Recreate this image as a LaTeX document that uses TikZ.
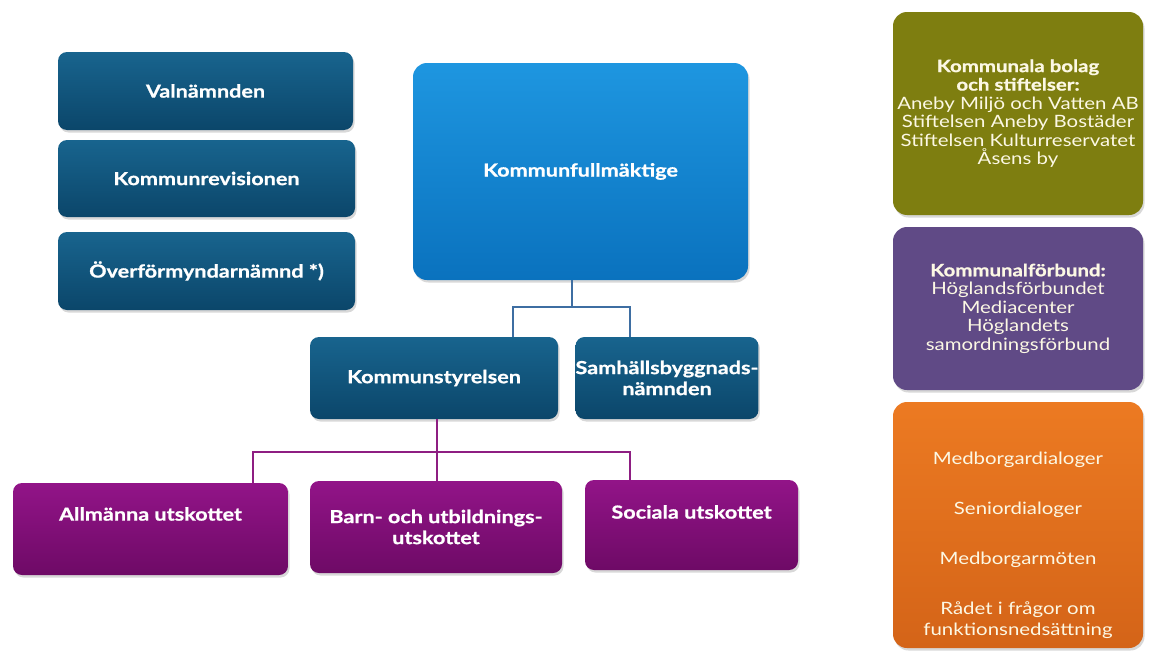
\documentclass[tikz,border=0pt]{standalone}
\usepackage{fontspec}
\setmainfont{Lato}[FakeStretch=1.2, BoldFeatures={FakeBold=0.8}]
\usetikzlibrary{shadows}

\definecolor{navytop}{RGB}{24,100,142}
\definecolor{navybot}{RGB}{11,70,106}
\definecolor{kftop}{RGB}{30,150,224}
\definecolor{kfbot}{RGB}{10,114,190}
\definecolor{plumtop}{RGB}{146,20,136}
\definecolor{plumbot}{RGB}{110,10,102}
\definecolor{bolaggreen}{RGB}{126,126,16}
\definecolor{forbundlila}{RGB}{96,74,134}
\definecolor{dialogtop}{RGB}{236,122,34}
\definecolor{dialogbot}{RGB}{212,100,24}
\definecolor{bluelink}{RGB}{62,110,162}
\definecolor{plumlink}{RGB}{142,30,130}
\definecolor{cream}{RGB}{252,248,228}

\tikzset{
  box/.style={rounded corners=9pt, inner sep=0pt, align=center, text=white,
    font=\bfseries\fontsize{18}{21}\selectfont,
    drop shadow={shadow xshift=1.5pt, shadow yshift=-2.5pt, opacity=0.3}},
  navybox/.style={box, top color=navytop, bottom color=navybot},
  kfbox/.style={box, rounded corners=14pt, top color=kftop, bottom color=kfbot},
  plumbox/.style={box, top color=plumtop, bottom color=plumbot},
  sidebox/.style={box, rounded corners=14pt, minimum width=250, text=cream,
    font=\fontsize{17}{18.5}\selectfont},
  boxtext/.style={align=center, text=white, font=\bfseries\fontsize{18}{21}\selectfont},
  bline/.style={draw=bluelink, line width=2.6pt},
  pline/.style={draw=plumlink, line width=2.8pt}
}

\begin{document}
\begin{tikzpicture}[x=1pt, y=-1pt]

\useasboundingbox[fill=white] (0,0) rectangle (1149,653);

% nämnder till vänster
\node[navybox, minimum width=295, minimum height=78] (valn) at (205.5,91) {Valnämnden};
\node[navybox, minimum width=297, minimum height=77] (rev) at (206.5,178.5) {Kommunrevisionen};
\node[navybox, minimum width=297, minimum height=78] (overf) at (206.5,271) {Överförmyndarnämnd *)};

\node[kfbox, minimum width=335, minimum height=217] (kf) at (580.5,171.5) {Kommunfullmäktige};

\node[navybox, minimum width=248, minimum height=82] (ks) at (434,378) {Kommunstyrelsen};
\node[navybox, minimum width=162, minimum height=82] (sb) at (667,378) {Samhällsbyggnads-\\nämnden};

% utskotten
\node[plumbox, minimum width=275, minimum height=92] (allm) at (150.5,529) {};
\node[boxtext] (allm-txt) at ([yshift=15pt]allm.center) {Allmänna utskottet};
\node[plumbox, minimum width=252, minimum height=92] (barn) at (436,527) {Barn- och utbildnings-\\utskottet};
\node[plumbox, minimum width=213, minimum height=90] (soc) at (691.5,525) {};
\node[boxtext] (soc-txt) at ([yshift=13pt]soc.center) {Sociala utskottet};

% rutor till höger
\node[sidebox, fill=bolaggreen, minimum height=203] (bolag) at (1018,113.5)
  {\textbf{Kommunala bolag}\\\textbf{och stiftelser:}\\Aneby Miljö och Vatten AB\\Stiftelsen Aneby Bostäder\\Stiftelsen Kulturreservatet\\Åsens by};
\node[sidebox, fill=forbundlila, minimum height=163] (forb) at (1018,308.5)
  {\textbf{Kommunalförbund:}\\Höglandsförbundet\\Mediacenter\\Höglandets\\samordningsförbund};
\node[sidebox, top color=dialogtop, bottom color=dialogbot, minimum height=246] (dial) at (1018,525) {};
\node[align=center, text=cream, font=\fontsize{17}{21}\selectfont] (dial-txt) at ([yshift=-20pt]dial.center)
  {Medborgardialoger\\[29pt]Seniordialoger\\[29pt]Medborgarmöten\\[29pt]Rådet i frågor om\\funktionsnedsättning};

% linjer
\coordinate (bjoin) at (572,307);
\coordinate (bl) at (513,307);
\coordinate (br) at (630,307);
\draw[bline] (kf.south -| bjoin) -- (bjoin);
\draw[bline] (ks.north -| bl) -- (bl) -- (br) -- (sb.north -| br);

\coordinate (pl) at (253,452);
\coordinate (pm) at (437,452);
\coordinate (pr) at (630,452);
\draw[pline] (ks.south -| pm) -- (pm);
\draw[pline] (allm.north -| pl) -- (pl) -- (pr) -- (soc.north -| pr);
\draw[pline] (pm) -- (barn.north -| pm);

\end{tikzpicture}
\end{document}
